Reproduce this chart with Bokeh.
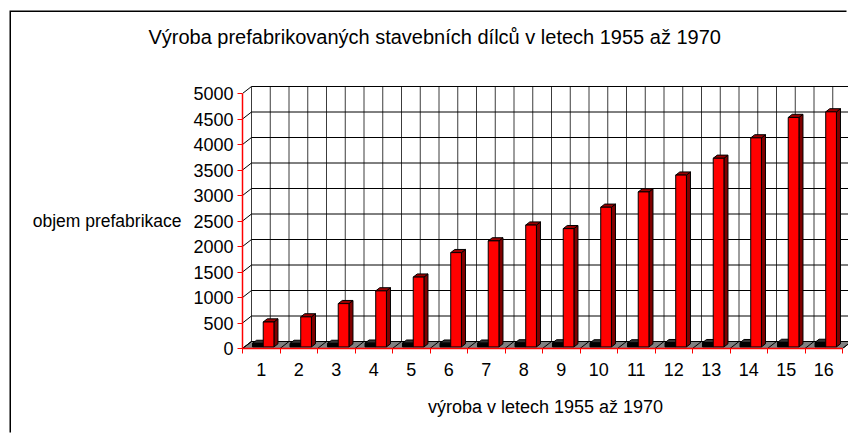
from bokeh.plotting import figure
from bokeh.models import Range1d, FixedTicker, LinearAxis
from bokeh.embed import file_html
from bokeh.resources import INLINE

# ---- data ----
roky = list(range(1, 17))
objem = [490, 590, 850, 1100, 1370, 1850, 2080, 2390, 2320, 2740, 3040, 3370, 3700, 4100, 4500, 4610]
rada_cerna = [70, 70, 70, 75, 75, 75, 75, 80, 80, 80, 80, 85, 85, 85, 90, 90]
y_ticks = list(range(0, 5001, 500))
title_text = "Výroba prefabrikovaných stavebních dílců v letech 1955 až 1970"
xlabel_text = "výroba v letech 1955 až 1970"
ylabel_text = "objem prefabrikace"

FONT = "Liberation Sans"

# ---- layout ----
OX, OY = 11, 12                 # page offset of the chart box
W, H = 848 - OX, 434 - OY
ML, MB, MT, MR = 242 - OX, H - (348 - OY), 78 - OY, 0
PX_X = 37.5      # px per category
PX_Y = 0.051     # px per unit
fw = W - ML - MR
fh = H - MT - MB
x0 = 0.5
xr = Range1d(x0, x0 + fw / PX_X)
yr = Range1d(0, fh / PX_Y)

# 3D depth offsets (in data units)
DDX = 9 / PX_X
DDY = 7 / PX_Y
F0, F1 = 0.22, 0.67
BW = 10.7 / PX_X

p = figure(width=W, height=H, x_range=xr, y_range=yr, output_backend="svg",
           toolbar_location=None, min_border_left=ML, min_border_bottom=MB,
           min_border_top=MT, min_border_right=MR,
           styles={"margin-left": f"{OX}px", "margin-top": f"{OY}px",
                   "box-shadow": "-1.5px -1.5px 0 0 black"})
p.outline_line_color = None
p.xgrid.visible = False
p.ygrid.visible = False
p.background_fill_color = "white"
p.border_fill_color = "white"

n = len(roky)
x_end = x0 + n

# back wall vertical grid lines (half-category spacing)
vx = [x0 + k * 0.5 + DDX for k in range(2 * n + 1)]
p.segment(x0=vx, y0=[DDY] * len(vx), x1=vx, y1=[y_ticks[-1] + DDY] * len(vx),
          line_color="#3c3c3c", line_width=1)
# back wall horizontal grid lines
p.segment(x0=[x0 + DDX] * len(y_ticks), y0=[t + DDY for t in y_ticks],
          x1=[x_end + DDX] * len(y_ticks), y1=[t + DDY for t in y_ticks],
          line_color="black", line_width=1)
# side diagonals from the front axis to the wall
p.segment(x0=[x0] * len(y_ticks), y0=y_ticks, x1=[x0 + DDX] * len(y_ticks),
          y1=[t + DDY for t in y_ticks], line_color="black", line_width=1)

# floor
p.patch([x0, x_end, x_end + DDX, x0 + DDX], [0, 0, DDY, DDY],
        fill_color="#808080", line_color="black", line_width=1)
bx = [x0 + k for k in range(n + 1)]
p.segment(x0=bx, y0=[0] * len(bx), x1=[b + DDX for b in bx], y1=[DDY] * len(bx),
          line_color="black", line_width=1)


def bar3d(xl, v):
    xs = xl + F0 * DDX
    xe = xs + BW
    b0 = F0 * DDY
    t = v + b0
    dx = (F1 - F0) * DDX
    dy = (F1 - F0) * DDY
    side = ([xe, xe + dx, xe + dx, xe], [b0, b0 + dy, t + dy, t])
    top = ([xs, xe, xe + dx, xs + dx], [t, t, t + dy, t + dy])
    return xs, xe, b0, t, side, top


for i in range(n):
    c = roky[i]
    for xl, v, front, sidec, topc in ((c - BW, rada_cerna[i], "black", "#1a1a1a", "#333333"),
                                      (c, objem[i], "#ff0000", "#800000", "#990000")):
        xs, xe, b0, t, side, top = bar3d(xl, v)
        p.patch(side[0], side[1], fill_color=sidec, line_color="black", line_width=1)
        p.patch(top[0], top[1], fill_color=topc, line_color="black", line_width=1)
        p.quad(left=[xs], right=[xe], bottom=[b0], top=[t], fill_color=front,
               line_color="black", line_width=1)

# axes
xa = p.xaxis[0]
xa.ticker = FixedTicker(ticks=roky, minor_ticks=[x0 + k for k in range(n + 1)])
xa.bounds = (x0, x_end)
xa.axis_line_color = "#ff0000"
xa.axis_line_width = 1.5
xa.major_tick_line_color = None
xa.major_tick_out = 0
xa.major_tick_in = 0
xa.minor_tick_line_color = "#ff0000"
xa.minor_tick_out = 5
xa.minor_tick_in = 0
xa.major_label_standoff = 9
xa.major_label_text_font = FONT
xa.major_label_text_font_size = "18px"
xa.major_label_text_color = "black"
xa.axis_label = xlabel_text
xa.axis_label_text_font = FONT
xa.axis_label_text_font_size = "18px"
xa.axis_label_text_font_style = "normal"
xa.axis_label_text_color = "black"
xa.axis_label_standoff = 18

ya = p.yaxis[0]
ya.ticker = FixedTicker(ticks=y_ticks, minor_ticks=[])
ya.bounds = (0, y_ticks[-1])
ya.axis_line_color = "#ff0000"
ya.axis_line_width = 1.5
ya.major_tick_line_color = "#ff0000"
ya.major_tick_out = 5
ya.major_tick_in = 0
ya.minor_tick_line_color = None
ya.major_label_standoff = 4
ya.major_label_text_font = FONT
ya.major_label_text_font_size = "18px"
ya.major_label_text_color = "black"

# y-axis title (horizontal), as a label-only axis further left
y_title_pos = y_ticks[-1] / 2
ylab = LinearAxis(ticker=FixedTicker(ticks=[y_title_pos], minor_ticks=[]),
                  major_label_overrides={y_title_pos: ylabel_text},
                  axis_line_color=None, major_tick_line_color=None,
                  minor_tick_line_color=None, major_tick_out=0, major_tick_in=0,
                  major_label_standoff=9, major_label_text_font=FONT,
                  major_label_text_font_size="17.5px", major_label_text_color="black")
p.add_layout(ylab, "left")

# chart title, as a label-only axis above
x_title_pos = 5.625
tax = LinearAxis(ticker=FixedTicker(ticks=[x_title_pos], minor_ticks=[]),
                 major_label_overrides={x_title_pos: title_text},
                 axis_line_color=None, major_tick_line_color=None,
                 minor_tick_line_color=None, major_tick_out=0, major_tick_in=0,
                 major_label_standoff=31, major_label_text_font=FONT,
                 major_label_text_font_size="20px", major_label_text_color="black")
p.add_layout(tax, "above")

open("out.html", "w").write(file_html(p, INLINE))
